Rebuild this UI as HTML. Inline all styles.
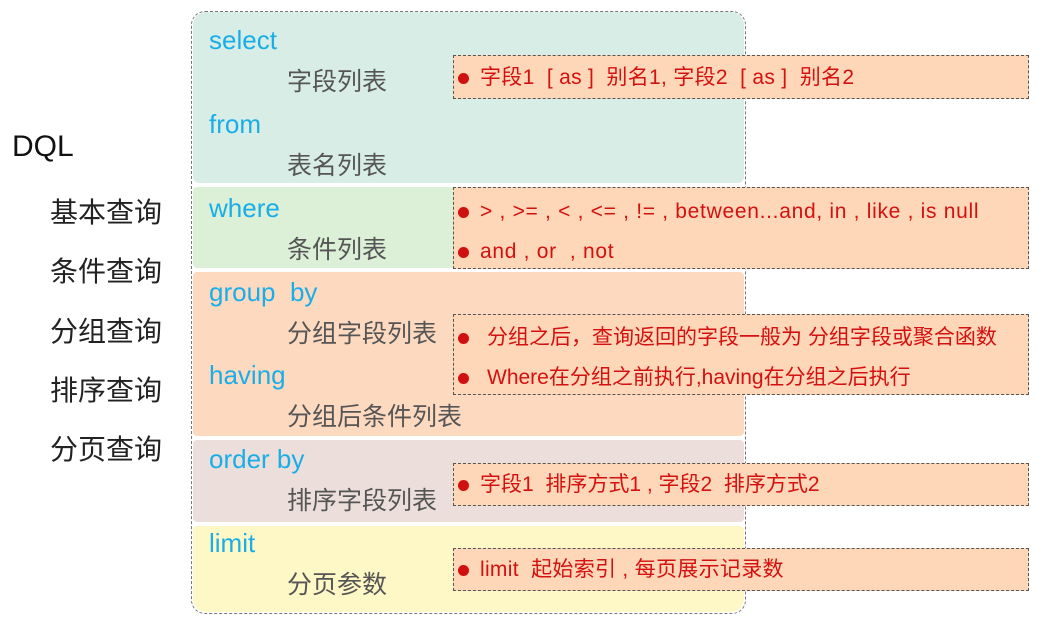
<!DOCTYPE html>
<html><head><meta charset="utf-8"><style>
body{margin:0;width:1054px;height:627px;background:#fff;position:relative;overflow:hidden;font-family:"Liberation Sans","Noto Sans CJK SC",sans-serif}
.a{position:absolute;white-space:nowrap}
.sec{position:absolute;left:193px;width:551px}
.kw{position:absolute;left:209px;color:#1aaee8;font-size:26px;line-height:30px}
.sub{position:absolute;left:287px;color:#555;font-size:25px;line-height:30px}
.cb{position:absolute;left:453px;width:576px;background:#fdd7b7;border:1px dashed #555;box-sizing:border-box}
.r{position:absolute;left:0;color:#d41010;font-size:21px;line-height:24px;white-space:nowrap}
.r:before{content:"";position:absolute;left:4px;top:7px;width:11px;height:11px;border-radius:50%;background:#d01010}
.l{position:absolute;left:50px;font-size:28px;color:#222;line-height:32px}
</style></head><body>
<div class="a" style="left:12px;top:129px;font-size:30px;color:#111;line-height:36px">DQL</div>
<div class="l" style="top:197px">基本查询</div>
<div class="l" style="top:256px">条件查询</div>
<div class="l" style="top:316px">分组查询</div>
<div class="l" style="top:375px">排序查询</div>
<div class="l" style="top:434px">分页查询</div>

<div class="a" style="left:191px;top:11px;width:553px;height:601px;border:1px dashed #777;border-radius:14px;"></div>
<div class="sec" style="top:12px;height:171px;background:#d8ede6;border-radius:13px 13px 6px 6px"></div>
<div class="sec" style="top:187px;height:81px;background:#dcefd7;border-radius:4px"></div>
<div class="sec" style="top:272px;height:164px;background:#fdd9c0;border-radius:4px"></div>
<div class="sec" style="top:440px;height:82px;background:#ecdfdb;border-radius:4px"></div>
<div class="sec" style="top:526px;height:86px;background:#fef8c6;border-radius:4px 4px 13px 13px"></div>

<div class="kw" style="top:25px">select</div>
<div class="sub" style="top:67px">字段列表</div>
<div class="kw" style="top:109px">from</div>
<div class="sub" style="top:151px">表名列表</div>
<div class="kw" style="top:193px">where</div>
<div class="sub" style="top:235px">条件列表</div>
<div class="kw" style="top:277px">group&nbsp; by</div>
<div class="sub" style="top:319px">分组字段列表</div>
<div class="kw" style="top:360px">having</div>
<div class="sub" style="top:402px">分组后条件列表</div>
<div class="kw" style="top:444px">order by</div>
<div class="sub" style="top:486px">排序字段列表</div>
<div class="kw" style="top:528px">limit</div>
<div class="sub" style="top:570px">分页参数</div>

<div class="cb" style="top:55px;height:44px"><div class="r" style="top:10px;padding-left:26px;letter-spacing:0.3px">字段1 &nbsp;[ as ] &nbsp;别名1, 字段2 &nbsp;[ as ] &nbsp;别名2</div></div>
<div class="cb" style="top:187px;height:82px"><div class="r" style="top:12px;padding-left:26px;letter-spacing:0.7px">&gt; , &gt;= , &lt; , &lt;= , != , between...and, in , like , is null</div><div class="r" style="top:52px;padding-left:26px;letter-spacing:0.7px">and , or &nbsp;, not</div></div>
<div class="cb" style="top:314px;height:81px"><div class="r" style="top:11px;padding-left:33px">分组之后，查询返回的字段一般为 分组字段或聚合函数</div><div class="r" style="top:51px;padding-left:33px">Where在分组之前执行,having在分组之后执行</div></div>
<div class="cb" style="top:463px;height:43px"><div class="r" style="top:9px;padding-left:26px">字段1 &nbsp;排序方式1 , 字段2 &nbsp;排序方式2</div></div>
<div class="cb" style="top:548px;height:43px"><div class="r" style="top:9px;padding-left:26px;letter-spacing:0.3px">limit &nbsp;起始索引 , 每页展示记录数</div></div>
</body></html>
